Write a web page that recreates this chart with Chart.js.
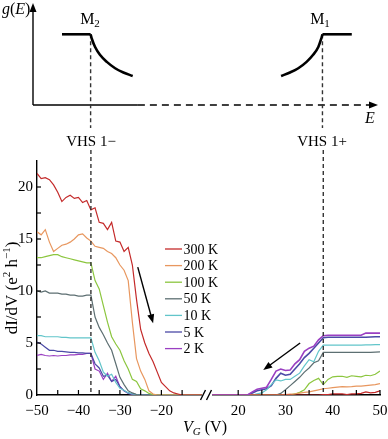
<!DOCTYPE html>
<html><head><meta charset="utf-8">
<script src="https://cdn.jsdelivr.net/npm/chart.js@4.4.1/dist/chart.umd.min.js"></script>
<style>
html,body{margin:0;padding:0;background:#fff;}
#wrap{position:relative;width:388px;height:439px;overflow:hidden;}
canvas{position:absolute;left:0;top:0;}
</style></head><body>
<div id="wrap"><canvas id="bottom" width="388" height="439"></canvas><canvas id="top" width="388" height="150"></canvas></div>
<script>
// ---------- data ----------
const temps = ['300 K','200 K','100 K','50 K','10 K','5 K','2 K'];
const vgLeft = [-50,-49,-48,-47,-46,-45,-44,-43,-42,-41,-40,-39,-38,-37,-36,-35,-34,-33,-32,-31,-30,-29,-28,-27,-26,-25,-24,-23,-22,-21,-20,-19,-18,-17,-16,-15,-14,-13,-12,-11,-10];
const vgRight = [14,15,16,17,18,19,20,21,22,23,24,25,26,27,28,29,30,31,32,33,34,35,36,37,38,39,40,41,42,43,44,45,46,47,48,49,50];

const k300L = [21.3,20.8,20.9,20.7,20.2,19.5,18.6,19.0,19.2,18.9,19.0,18.5,18.7,17.8,18.0,16.6,16.5,15.9,16.6,14.8,14.7,13.8,14.2,12.5,9.2,6.3,5.0,4.0,3.2,2.2,1.2,0.8,0.4,0.2,0.1,0,0,0,0,0,0];
const k200L = [15.7,15.4,15.9,14.7,13.8,14.1,14.4,14.5,14.7,15.0,15.4,15.5,15.1,14.8,14.3,14.2,14.1,13.8,13.6,13.2,12.5,12.0,11.0,7.0,3.5,2.3,1.5,0.4,0.1,0,0,0,0,0,0,0,0,0,0,0,0];
const k100L = [13.2,13.2,13.3,13.4,13.5,13.5,13.3,13.2,13.1,13.0,12.9,12.8,12.7,12.7,11.0,10.2,8.6,7.0,5.6,4.9,4.3,3.3,2.5,1.5,1.3,0.6,0.4,0.15,0.05,0,0,0,0,0,0,0,0,0,0,0,0];
const k50L  = [10.0,9.9,10.0,9.8,9.8,9.8,9.7,9.7,9.6,9.6,9.5,9.5,9.6,9.6,7.5,6.5,5.8,5.0,4.3,3.0,1.7,1.0,0.4,0.2,0.05,0,0,0,0,0,0,0,0,0,0,0,0,0,0,0,0];
const k10L  = [5.7,5.7,5.6,5.6,5.6,5.6,5.55,5.55,5.5,5.5,5.5,5.5,5.5,5.5,4.1,3.3,2.2,1.8,2.0,1.2,0.65,0.45,0.2,0.1,0.05,0,0,0,0,0,0,0,0,0,0,0,0,0,0,0,0];
const k5L   = [5.1,4.9,4.6,4.3,4.3,4.2,4.2,4.15,4.1,4.1,4.05,4.05,4.0,4.0,3.0,2.6,1.8,1.9,1.3,1.5,0.8,0.4,0.2,0.1,0.05,0,0,0,0,0,0,0,0,0,0,0,0,0,0,0,0];
const k2L   = [3.8,3.9,3.8,3.75,3.8,3.75,3.8,3.8,3.85,3.85,3.9,3.9,4.0,4.0,2.5,2.3,1.5,2.1,1.3,1.8,0.8,0.4,0.15,0.05,0,0,0,0,0,0,0,0,0,0,0,0,0,0,0,0,0];

const k300R = [0,0,0,0,0,0,0,0,0,0,0,0,0,0,0,0,0,0,0,0,0,0,0,0,0.05,0.05,0.1,0.1,0.1,0.05,0.1,0.1,0.15,0.3,0.2,0.25,0.4];
const k200R = [0,0,0,0,0,0,0,0,0,0,0,0,0,0,0,0,0.05,0.08,0.12,0.18,0.25,0.3,0.4,0.5,0.6,0.65,0.7,0.75,0.8,0.78,0.8,0.85,0.85,0.9,0.95,1.0,1.1];
const k100R = [0,0,0,0,0,0,0,0,0,0,0,0,0,0,0,0,0,0,0.1,0.25,0.5,1.1,1.4,1.6,1.0,1.5,1.75,1.8,1.8,1.7,1.85,1.8,1.75,1.9,1.85,2.0,2.3];
const k50R  = [0,0,0,0,0,0,0,0,0,0,0,0,0,0,0,0.15,0.5,0.9,1.3,1.7,2.2,2.6,3.1,3.3,4.1,4.1,4.1,4.1,4.1,4.1,4.1,4.1,4.1,4.1,4.1,4.12,4.15];
const k10R  = [0,0,0,0,0,0,0,0,0,0,0.1,0.2,0.5,1.0,1.45,1.35,1.5,1.5,1.8,2.1,2.8,3.4,3.2,4.2,4.8,4.8,4.8,4.8,4.8,4.8,4.8,4.8,4.8,4.82,4.82,4.85,4.85];
const k5R   = [0,0,0,0,0,0,0,0,0,0.2,0.4,0.5,0.6,0.9,1.6,2.1,1.9,2.0,2.5,3.0,3.6,4.0,4.5,5.0,5.5,5.55,5.55,5.55,5.55,5.55,5.55,5.55,5.55,5.55,5.58,5.6,5.6];
const k2R   = [0,0,0,0,0,0,0,0,0,0.3,0.55,0.65,0.75,1.5,2.3,2.5,2.35,2.4,3.0,3.4,4.2,4.5,4.7,5.3,5.7,5.75,5.75,5.75,5.75,5.75,5.75,5.75,5.75,5.95,5.95,5.95,5.95];

const leftSeries = [k300L,k200L,k100L,k50L,k10L,k5L,k2L];
const rightSeries = [k300R,k200R,k100R,k50R,k10R,k5R,k2R];

const xTicksLeft = [-50,-40,-30,-20];
const xTicksRight = [20,30,40,50];
const yTicks = [0,5,10,15,20];
const xMarksLeft = [-45,-40,-35,-30,-25,-20,-15];
const xMarksRight = [20,25,30,35,40,45,50];
const yMarks = [2.5,5,7.5,10,12.5,15,17.5,20];
const vhsMinus = -37;
const vhsPlus = 38;
const arrowLeft = [[-25.7,12.3],[-22.0,6.9]];
const arrowRight = [[33.1,5.0],[25.3,2.4]];

// schematic density of states
const m2PlateauE = [8.4,16.7], m2PlateauG = [1,1];
const m2CurveE = [16.7,17.1,18.0,19.4,21.4,23.8,26.2,28.9];
const m2CurveG = [1.0,0.93,0.82,0.71,0.61,0.52,0.46,0.41];
const m1CurveE = [71.9,74.5,76.9,79.3,81.2,82.7,83.5,83.9];
const m1CurveG = [0.41,0.46,0.52,0.61,0.71,0.82,0.93,1.0];
const m1PlateauE = [83.9,92.4], m1PlateauG = [1,1];

// ---------- styles ----------
const colors = ['#c42a2a','#e8975f','#8cc63f','#5d6f72','#62c5ca','#4b4aa6','#9a3fc2'];
const SERIF = "'Liberation Serif','Times New Roman',serif";
Chart.defaults.font.family = SERIF;
Chart.defaults.color = '#000';

function pts(xs, ys){ return xs.map((x,i)=>({x:x,y:ys[i]})); }

const datasets = [];
temps.forEach((t,i)=>{
  datasets.push({label:t, data:pts(vgLeft,leftSeries[i]), xAxisID:'xL', yAxisID:'y',
    borderColor:colors[i], borderWidth:1.2, pointRadius:0, fill:false, order:i});
});
temps.forEach((t,i)=>{
  datasets.push({label:t+' R', data:pts(vgRight,rightSeries[i]), xAxisID:'xR', yAxisID:'y',
    borderColor:colors[i], borderWidth:(i>=5?1.6:1.2), pointRadius:0, fill:false, order:(i===6?-1:i)});
});

function arrow(ctx, x1,y1,x2,y2, head, half){
  const a = Math.atan2(y2-y1, x2-x1);
  ctx.beginPath(); ctx.moveTo(x1,y1);
  ctx.lineTo(x2 - Math.cos(a)*head*0.8, y2 - Math.sin(a)*head*0.8); ctx.stroke();
  ctx.beginPath();
  ctx.moveTo(x2,y2);
  ctx.lineTo(x2 - Math.cos(a)*head - Math.sin(a)*half, y2 - Math.sin(a)*head + Math.cos(a)*half);
  ctx.lineTo(x2 - Math.cos(a)*head + Math.sin(a)*half, y2 - Math.sin(a)*head - Math.cos(a)*half);
  ctx.closePath(); ctx.fill();
}

function richText(ctx, parts, x, y, align){
  // parts: [text, size, style, dy]
  let w = 0;
  parts.forEach(p=>{ ctx.font = (p[2]||'') + ' ' + p[1] + 'px ' + SERIF; p.w = ctx.measureText(p[0]).width; w += p.w; });
  let cx = align==='center' ? x - w/2 : x;
  parts.forEach(p=>{ ctx.font = (p[2]||'') + ' ' + p[1] + 'px ' + SERIF; ctx.fillText(p[0], cx, y + (p[3]||0)); cx += p.w; });
}

const bottomDecor = {
  id:'bottomDecor',
  afterDatasetsDraw(chart){
    const ctx = chart.ctx, xL = chart.scales.xL, xR = chart.scales.xR, y = chart.scales.y;
    const y0 = y.getPixelForValue(0), x0 = xL.left;
    ctx.save();
    // axis break
    const bx = xL.right;
    ctx.fillStyle = '#fff';
    ctx.fillRect(bx-5, y0-7, 10, 14);
    ctx.strokeStyle = '#000'; ctx.lineWidth = 1.4;
    [-4, 2].forEach(dx=>{ ctx.beginPath(); ctx.moveTo(bx+dx-2.5, y0+5); ctx.lineTo(bx+dx+2.5, y0-5); ctx.stroke(); });
    // inward tick marks
    ctx.lineWidth = 1.2;
    xMarksLeft.forEach(v=>{ const p = xL.getPixelForValue(v); ctx.beginPath(); ctx.moveTo(p,y0); ctx.lineTo(p,y0-5); ctx.stroke(); });
    xMarksRight.forEach(v=>{ const p = xR.getPixelForValue(v); ctx.beginPath(); ctx.moveTo(p,y0); ctx.lineTo(p,y0-5); ctx.stroke(); });
    yMarks.forEach(v=>{ const p = y.getPixelForValue(v); ctx.beginPath(); ctx.moveTo(x0,p); ctx.lineTo(x0+4,p); ctx.stroke(); });
    // VHS dashed lines
    ctx.strokeStyle = '#333'; ctx.lineWidth = 1.4; ctx.setLineDash([4,3]);
    [[xL,vhsMinus],[xR,vhsPlus]].forEach(([s,v])=>{ const p = s.getPixelForValue(v); ctx.beginPath(); ctx.moveTo(p,150); ctx.lineTo(p,y0); ctx.stroke(); });
    ctx.setLineDash([]);
    // arrows
    ctx.strokeStyle = '#000'; ctx.fillStyle = '#000'; ctx.lineWidth = 1.4;
    arrow(ctx, xL.getPixelForValue(arrowLeft[0][0]), y.getPixelForValue(arrowLeft[0][1]),
               xL.getPixelForValue(arrowLeft[1][0]), y.getPixelForValue(arrowLeft[1][1]), 9, 3.5);
    arrow(ctx, xR.getPixelForValue(arrowRight[0][0]), y.getPixelForValue(arrowRight[0][1]),
               xR.getPixelForValue(arrowRight[1][0]), y.getPixelForValue(arrowRight[1][1]), 9, 3.5);
    // legend
    ctx.textBaseline = 'middle'; ctx.textAlign = 'left';
    temps.forEach((t,i)=>{
      const ly = 249 + i*16.6;
      ctx.strokeStyle = colors[i]; ctx.lineWidth = 1.3;
      ctx.beginPath(); ctx.moveTo(165, ly); ctx.lineTo(182, ly); ctx.stroke();
      ctx.fillStyle = '#000'; ctx.font = '14px ' + SERIF;
      ctx.fillText(t, 183.5, ly+1);
    });
    // axis titles
    ctx.textBaseline = 'alphabetic';
    richText(ctx, [['V',16,'italic',0],['G',11,'italic',3],[' (V)',16,'',0]], 205, 432, 'center');
    ctx.translate(17, 288); ctx.rotate(-Math.PI/2);
    richText(ctx, [['dI/dV (e',17,'',0],['2',11,'',-7],[' h',17,'',0],['\u22121',11,'',-7],[')',17,'',0]], 0, 0, 'center');
    ctx.restore();
  }
};

function fmt(v){ return v < 0 ? '\u2212' + Math.abs(v) : String(v); }
function noPad(s){ s.paddingLeft = 0; s.paddingRight = 0; s.paddingTop = 0; s.paddingBottom = 0; }

new Chart(document.getElementById('bottom'), {
  type:'line',
  data:{datasets:datasets},
  options:{
    responsive:false, animation:false, devicePixelRatio:1,
    layout:{padding:{top:161, right:8, left:0, bottom:0}},
    plugins:{legend:{display:false}, tooltip:{enabled:false}, title:{display:false}},
    scales:{
      xL:{type:'linear', position:'bottom', stack:'xs', stackWeight:170, min:-50, max:-9,
        grid:{display:false, drawTicks:false}, border:{display:true, color:'#000', width:1.4},
        ticks:{font:{size:15}, padding:7, color:'#000', maxRotation:0, callback:fmt},
        afterBuildTicks:s=>{ s.ticks = xTicksLeft.map(v=>({value:v})); },
        afterFit:s=>{ s.height = 44; noPad(s); }},
      xR:{type:'linear', position:'bottom', stack:'xs', stackWeight:173, min:13.4, max:50,
        grid:{display:false, drawTicks:false}, border:{display:true, color:'#000', width:1.4},
        ticks:{font:{size:15}, padding:7, color:'#000', maxRotation:0, callback:fmt},
        afterBuildTicks:s=>{ s.ticks = xTicksRight.map(v=>({value:v})); },
        afterFit:s=>{ s.height = 44; noPad(s); }},
      y:{type:'linear', position:'left', min:0, max:22.5,
        grid:{display:false, drawTicks:false}, border:{display:true, color:'#000', width:1.4},
        ticks:{font:{size:15}, padding:4, color:'#000', callback:fmt},
        afterBuildTicks:s=>{ s.ticks = yTicks.map(v=>({value:v})); },
        afterFit:s=>{ s.width = 37; noPad(s); }}
    }
  },
  plugins:[bottomDecor]
});

// ---------- top schematic ----------
const topDecor = {
  id:'topDecor',
  beforeDatasetsDraw(chart){
    const ctx = chart.ctx, x = chart.scales.x, y = chart.scales.y;
    const ox = x.getPixelForValue(0), oy = y.getPixelForValue(0);
    ctx.save();
    ctx.strokeStyle = '#000'; ctx.fillStyle = '#000'; ctx.lineWidth = 1.4;
    // y axis with arrow
    ctx.beginPath(); ctx.moveTo(ox, oy); ctx.lineTo(ox, 10); ctx.stroke();
    ctx.beginPath(); ctx.moveTo(ox, 3); ctx.lineTo(ox-3.5, 12); ctx.lineTo(ox+3.5, 12); ctx.closePath(); ctx.fill();
    // x axis: solid then dashed, arrow
    const xs = x.getPixelForValue(30.4), xe = x.getPixelForValue(97.7), xt = x.getPixelForValue(100);
    ctx.beginPath(); ctx.moveTo(ox, oy); ctx.lineTo(xs, oy); ctx.stroke();
    ctx.setLineDash([7,5]);
    ctx.beginPath(); ctx.moveTo(xs, oy); ctx.lineTo(xe, oy); ctx.stroke();
    ctx.setLineDash([]);
    ctx.beginPath(); ctx.moveTo(xt, oy); ctx.lineTo(xt-9, oy-3.5); ctx.lineTo(xt-9, oy+3.5); ctx.closePath(); ctx.fill();
    // VHS dashed lines
    ctx.strokeStyle = '#333'; ctx.setLineDash([4,3]);
    [m2CurveE[0], m1CurveE[m1CurveE.length-1]].forEach(e=>{
      const p = x.getPixelForValue(e);
      ctx.beginPath(); ctx.moveTo(p, y.getPixelForValue(1)); ctx.lineTo(p, 128); ctx.stroke();
    });
    ctx.setLineDash([]);
    // labels
    ctx.fillStyle = '#000'; ctx.textBaseline = 'alphabetic';
    richText(ctx, [['g',16,'italic',0],['(',16,'',0],['E',16,'italic',0],[')',16,'',0]], 2, 14, 'left');
    richText(ctx, [['M',16,'',0],['2',11,'',3]], 90, 24, 'center');
    richText(ctx, [['M',16,'',0],['1',11,'',3]], 320, 24, 'center');
    richText(ctx, [['E',16,'italic',0]], 370, 123, 'center');
    richText(ctx, [['VHS 1\u2212',15,'',0]], 91, 146, 'center');
    richText(ctx, [['VHS 1+',15,'',0]], 322, 146, 'center');
    ctx.restore();
  }
};

const topStyle = {borderColor:'#000', borderWidth:2.6, pointRadius:0, fill:false};
new Chart(document.getElementById('top'), {
  type:'line',
  data:{datasets:[
    Object.assign({data:pts(m2PlateauE,m2PlateauG)}, topStyle),
    Object.assign({data:pts(m2CurveE,m2CurveG), cubicInterpolationMode:'monotone'}, topStyle),
    Object.assign({data:pts(m1CurveE,m1CurveG), cubicInterpolationMode:'monotone'}, topStyle),
    Object.assign({data:pts(m1PlateauE,m1PlateauG)}, topStyle)
  ]},
  options:{
    responsive:false, animation:false, devicePixelRatio:1,
    layout:{padding:{left:33, right:10, top:6, bottom:45}},
    plugins:{legend:{display:false}, tooltip:{enabled:false}},
    scales:{ x:{type:'linear', min:0, max:100, display:false}, y:{type:'linear', min:0, max:1.4, display:false} }
  },
  plugins:[topDecor]
});
</script>
</body></html>
